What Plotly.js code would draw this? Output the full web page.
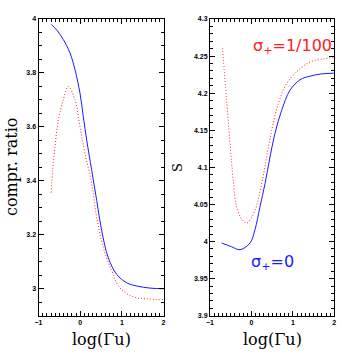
<!DOCTYPE html>
<html>
<head>
<meta charset="utf-8">
<script src="https://cdn.plot.ly/plotly-3.0.1.min.js"></script>
<style>body{margin:0;background:#fff}#plot{width:354px;height:354px}</style>
</head>
<body>
<div id="plot"></div>
<script>
// left panel: compression ratio vs log(Gamma u)
const ratioX0 = [-0.69, -0.55, -0.405, -0.244, -0.124, -0.004, 0.075, 0.157, 0.277, 0.397, 0.517, 0.675, 0.877, 1.117, 1.357, 1.7, 2.0];
const ratioY0 = [3.98, 3.957, 3.924, 3.874, 3.812, 3.725, 3.638, 3.551, 3.439, 3.327, 3.215, 3.115, 3.053, 3.022, 3.010, 3.002, 3.0];
const ratioX1 = [-0.70, -0.66, -0.604, -0.525, -0.405, -0.285, -0.124, -0.004, 0.116, 0.277, 0.397, 0.555, 0.757, 0.956, 1.27, 1.6, 2.0];
const ratioY1 = [3.356, 3.44, 3.526, 3.625, 3.70, 3.750, 3.70, 3.60, 3.501, 3.389, 3.265, 3.153, 3.066, 3.003, 2.97, 2.962, 2.96];

// right panel: S vs log(Gamma u)
const sX0 = [-0.72, -0.48, -0.276, -0.034, 0.086, 0.207, 0.328, 0.448, 0.569, 0.730, 0.931, 1.172, 1.414, 1.7, 2.0];
const sY0 = [3.998, 3.993, 3.989, 3.998, 4.016, 4.047, 4.078, 4.114, 4.146, 4.177, 4.204, 4.218, 4.223, 4.226, 4.227];
const sX1 = [-0.70, -0.6, -0.44, -0.36, -0.24, -0.114, 0.086, 0.247, 0.368, 0.489, 0.649, 0.851, 1.131, 1.414, 1.7, 2.0];
const sY1 = [4.261, 4.191, 4.083, 4.047, 4.031, 4.025, 4.042, 4.078, 4.114, 4.150, 4.186, 4.213, 4.231, 4.242, 4.246, 4.248];

const blue = '#1a1aff';
const red = '#ff2020';
const dotted = '1px,2px';

const data = [
  {x: ratioX0, y: ratioY0, mode: 'lines', line: {color: blue, width: 1, shape: 'spline', smoothing: 1}, xaxis: 'x', yaxis: 'y'},
  {x: ratioX1, y: ratioY1, mode: 'lines', line: {color: red, width: 1, dash: dotted, shape: 'spline', smoothing: 1}, xaxis: 'x', yaxis: 'y'},
  {x: sX0, y: sY0, mode: 'lines', line: {color: blue, width: 1, shape: 'spline', smoothing: 1}, xaxis: 'x2', yaxis: 'y2'},
  {x: sX1, y: sY1, mode: 'lines', line: {color: red, width: 1, dash: dotted, shape: 'spline', smoothing: 1}, xaxis: 'x2', yaxis: 'y2'}
];

const tickFont = {family: 'Liberation Sans, Arial', size: 7, color: '#000', weight: 'bold'};
const serif = 'DejaVu Serif, serif';
const sans = 'DejaVu Sans, sans-serif';

function axis(extra) {
  return Object.assign({
    showgrid: false, zeroline: false, showline: true, linecolor: '#000', linewidth: 1,
    mirror: 'allticks', ticks: 'inside', ticklen: 5, tickwidth: 1, tickcolor: '#000',
    tickfont: tickFont
  }, extra);
}

function minor(step) {
  return {dtick: step, ticklen: 3, tickwidth: 1, ticks: 'inside', tickcolor: '#000', showgrid: false};
}

const yDom = [1 - 315.7 / 354, 1 - 19 / 354];

function label(text, px, py, size, color, family, angle) {
  return {text: text, xref: 'paper', yref: 'paper', x: px / 354, y: 1 - py / 354,
    xanchor: 'center', yanchor: 'middle', showarrow: false, textangle: angle || 0,
    font: {family: family, size: size, color: color}};
}

const layout = {
  width: 354, height: 354,
  margin: {l: 0, r: 0, t: 0, b: 0},
  paper_bgcolor: '#fff', plot_bgcolor: '#fff',
  showlegend: false,
  xaxis: axis({domain: [38.5 / 354, 163.5 / 354], range: [-1, 2], dtick: 1, anchor: 'y', minor: minor(0.1)}),
  yaxis: axis({domain: yDom, range: [2.9, 4], dtick: 0.2, anchor: 'x', minor: minor(0.05)}),
  xaxis2: axis({domain: [210 / 354, 334.3 / 354], range: [-1, 2], dtick: 1, anchor: 'y2', minor: minor(0.1)}),
  yaxis2: axis({domain: yDom, range: [3.9, 4.3], dtick: 0.05, anchor: 'x2', minor: minor(0.01)}),
  annotations: [
    label('log(Γu)', 101, 339, 16, '#000', serif),
    label('log(Γu)', 272, 339, 16, '#000', serif),
    label('compr. ratio', 12, 167, 16, '#000', serif, -90),
    label('S', 177, 168, 13, '#000', serif, -90),
    label('σ<sub>+</sub>=1/100', 292, 46, 16, red, sans),
    label('σ<sub>+</sub>=0', 272, 262, 16, blue, sans)
  ]
};

Plotly.newPlot('plot', data, layout, {staticPlot: true});
</script>
</body>
</html>
